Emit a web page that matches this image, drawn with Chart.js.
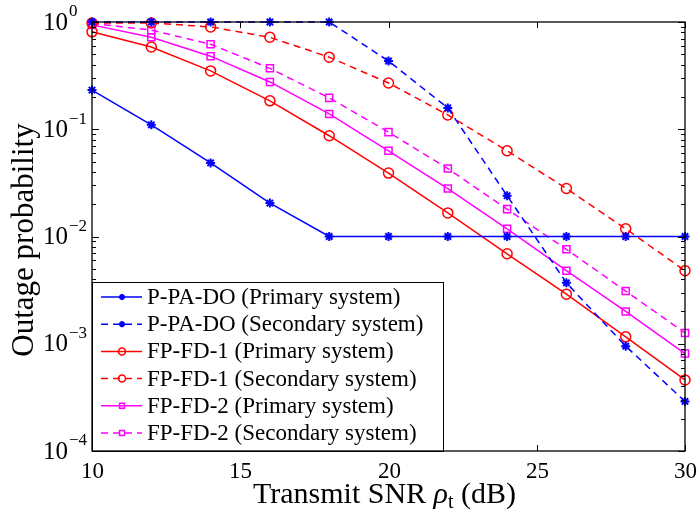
<!DOCTYPE html>
<html>
<head>
<meta charset="utf-8">
<style>
  html, body { margin: 0; padding: 0; background: #fff; }
  #wrap { width: 700px; height: 514px; }
</style>
<script src="https://cdn.jsdelivr.net/npm/chart.js@4.4.1/dist/chart.umd.min.js"></script>
</head>
<body>
<div id="wrap"><canvas id="outage-chart" width="700" height="514"></canvas></div>
<script>
// Transmit SNR (dB)
const snr = [10, 12, 14, 16, 18, 20, 22, 24, 26, 28, 30];

// Outage probability per scheme
const ppadoPrimary   = [0.232, 0.11, 0.0485, 0.0205, 0.01, 0.01, 0.01, 0.01, 0.01, 0.01, 0.01];
const ppadoSecondary = [1, 1, 1, 1, 1, 0.433, 0.158, 0.024, 0.0037, 0.00095, 0.00029];
const fpfd1Primary   = [0.81, 0.585, 0.35, 0.184, 0.087, 0.039, 0.0166, 0.0069, 0.0029, 0.00116, 0.00046];
const fpfd1Secondary = [0.98, 0.98, 0.9, 0.72, 0.47, 0.27, 0.136, 0.063, 0.028, 0.0118, 0.0048];
const fpfd2Primary   = [0.94, 0.72, 0.48, 0.276, 0.139, 0.063, 0.028, 0.0118, 0.0048, 0.002, 0.00081];
const fpfd2Secondary = [0.97, 0.84, 0.62, 0.37, 0.196, 0.094, 0.043, 0.018, 0.0076, 0.0031, 0.00126];

// Axis ticks
const xTicks = [10, 15, 20, 25, 30];
const yExponents = [0, -1, -2, -3, -4];

const SERIF = '"Liberation Serif", serif';
const BLUE = '#0000ff';
const RED = '#ff0000';
const MAGENTA = '#ff00ff';
const DASH = [7, 5];

const toPoints = vals => snr.map((x, i) => ({ x, y: vals[i] }));

function series(label, vals, color, style, dashed) {
    return {
        label,
        data: toPoints(vals),
        borderColor: color,
        backgroundColor: 'rgba(0,0,0,0)',
        borderWidth: 1.5,
        borderDash: dashed ? DASH : [],
        pointStyle: style,
        pointRadius: style === 'star' ? 4.5 : 5,
        pointBorderWidth: style === 'star' ? 2 : 1.5,
        pointBorderColor: color,
        pointBackgroundColor: 'rgba(0,0,0,0)',
        legendRadius: style === 'star' ? 3 : 3.5,
        tension: 0,
        fill: false,
        clip: false,
    };
}

const datasets = [
    series('P-PA-DO (Primary system)', ppadoPrimary, BLUE, 'star', false),
    series('P-PA-DO (Secondary system)', ppadoSecondary, BLUE, 'star', true),
    series('FP-FD-1 (Primary system)', fpfd1Primary, RED, 'circle', false),
    series('FP-FD-1 (Secondary system)', fpfd1Secondary, RED, 'circle', true),
    series('FP-FD-2 (Primary system)', fpfd2Primary, MAGENTA, 'rect', false),
    series('FP-FD-2 (Secondary system)', fpfd2Secondary, MAGENTA, 'rect', true),
];

function seg(ctx, x1, y1, x2, y2) {
    ctx.beginPath();
    ctx.moveTo(x1, y1);
    ctx.lineTo(x2, y2);
    ctx.stroke();
}

// MATLAB style frame, inward ticks, labels, titles and legend
const matlabFrame = {
    id: 'matlabFrame',
    afterDatasetsDraw(chart) {
        const { ctx, chartArea: a, scales: { x, y } } = chart;
        ctx.save();
        ctx.strokeStyle = '#000';
        ctx.fillStyle = '#000';
        ctx.lineWidth = 1;

        // x ticks + labels
        ctx.font = '23px ' + SERIF;
        ctx.textAlign = 'center';
        ctx.textBaseline = 'middle';
        xTicks.forEach(v => {
            const px = Math.round(x.getPixelForValue(v)) + 0.5;
            seg(ctx, px, a.bottom, px, a.bottom - 6);
            seg(ctx, px, a.top, px, a.top + 6);
            ctx.fillText(String(v), px, a.bottom + 21);
        });

        // y ticks (decades + minors)
        yExponents.forEach(e => {
            for (let m = 1; m <= 9; m++) {
                const v = m * Math.pow(10, e);
                if (v > 1.0001) break;
                const py = Math.round(y.getPixelForValue(v)) + 0.5;
                const len = m === 1 ? 7 : 4;
                seg(ctx, a.left, py, a.left + len, py);
                seg(ctx, a.right, py, a.right - len, py);
            }
        });

        // y tick labels 10^e
        ctx.textAlign = 'left';
        yExponents.forEach(e => {
            const py = y.getPixelForValue(Math.pow(10, e));
            ctx.font = '25px ' + SERIF;
            ctx.fillText('10', 43, py + 1);
            ctx.font = '17px ' + SERIF;
            ctx.fillText(e === 0 ? '0' : '\u2212' + Math.abs(e), 69, py - 10);
        });

        // legend
        const lx = a.left, ly = 282, lw = 443 - a.left, lh = a.bottom - 282;
        ctx.fillStyle = '#fff';
        ctx.fillRect(lx, ly, lw, lh);
        ctx.lineWidth = 1;
        ctx.strokeRect(lx + 0.5, ly + 0.5, lw, lh);
        chart.data.datasets.forEach((ds, i) => {
            const cy = 297 + i * 27.2;
            ctx.strokeStyle = ds.borderColor;
            ctx.lineWidth = 1.5;
            ctx.setLineDash(ds.borderDash);
            seg(ctx, 101, cy, 142, cy);
            ctx.setLineDash([]);
            ctx.fillStyle = 'rgba(0,0,0,0)';
            ctx.lineWidth = ds.pointBorderWidth;
            Chart.helpers.drawPoint(ctx, {
                pointStyle: ds.pointStyle,
                radius: ds.legendRadius,
                rotation: 0,
                borderWidth: ds.pointBorderWidth,
            }, 122, cy);
            ctx.fillStyle = '#000';
            ctx.font = '23px ' + SERIF;
            ctx.textBaseline = 'middle';
            ctx.textAlign = 'left';
            ctx.fillText(ds.label, 147, cy + 1);
        });

        // frame
        ctx.strokeStyle = '#000';
        ctx.lineWidth = 1.3;
        ctx.strokeRect(a.left, a.top, a.right - a.left, a.bottom - a.top);

        // x title with subscript
        ctx.fillStyle = '#000';
        ctx.textBaseline = 'alphabetic';
        const parts = [
            ['Transmit SNR ', '30px ' + SERIF, 0],
            ['\u03c1', 'italic 30px ' + SERIF, 0],
            ['t', '20px ' + SERIF, 5],
            [' (dB)', '30px ' + SERIF, 0],
        ];
        let total = 0;
        parts.forEach(p => { ctx.font = p[1]; total += ctx.measureText(p[0]).width; });
        let cx = (a.left + a.right) / 2 - 4 - total / 2;
        parts.forEach(p => {
            ctx.font = p[1];
            ctx.fillText(p[0], cx, 503 + p[2]);
            cx += ctx.measureText(p[0]).width;
        });

        // y title
        ctx.translate(33, 240);
        ctx.rotate(-Math.PI / 2);
        ctx.font = '31px ' + SERIF;
        ctx.textAlign = 'center';
        ctx.fillText('Outage probability', 0, 0);
        ctx.restore();
    }
};

const config = {
    type: 'line',
    data: { datasets },
    options: {
        responsive: false,
        animation: false,
        devicePixelRatio: 1,
        layout: { padding: { left: 92, top: 22, right: 15, bottom: 63 } },
        plugins: {
            legend: { display: false },
            tooltip: { enabled: false },
        },
        scales: {
            x: { type: 'linear', min: 10, max: 30, display: false },
            y: { type: 'logarithmic', min: 1e-4, max: 1, display: false },
        },
    },
    plugins: [matlabFrame],
};

const fontsReady = Promise.all([
    document.fonts.load('24px "Liberation Serif"'),
    document.fonts.load('italic 24px "Liberation Serif"'),
]).catch(() => null);

fontsReady.then(() => {
    new Chart(document.getElementById('outage-chart').getContext('2d'), config);
});
</script>
</body>
</html>
